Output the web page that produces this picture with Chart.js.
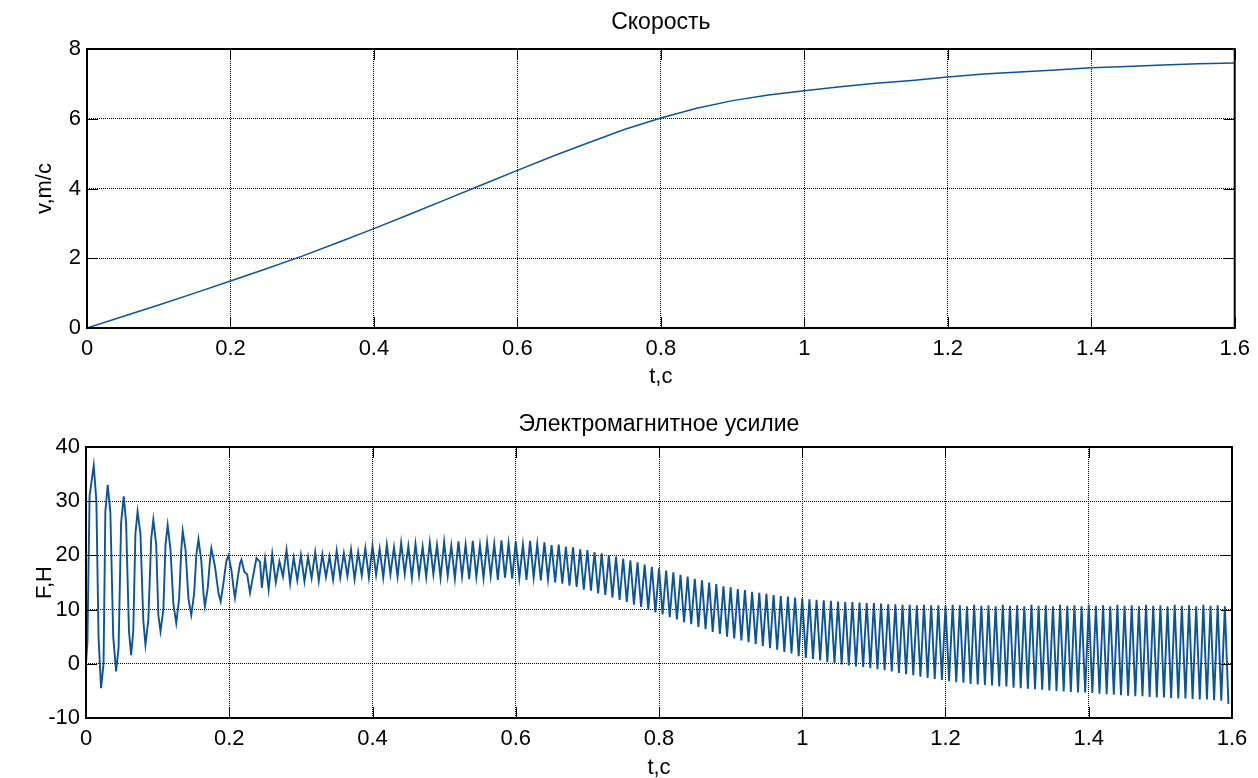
<!DOCTYPE html>
<html><head><meta charset="utf-8">
<script src="https://cdn.jsdelivr.net/npm/chart.js@4.4.1/dist/chart.umd.min.js"></script>
<style>
html,body{margin:0;padding:0;background:#fff;overflow:hidden;width:1258px;height:778px;}
.wrap{position:absolute;left:0;width:1258px;}
</style></head><body>
<div class="wrap" style="top:0;height:390px"><canvas id="c1" width="1258" height="390"></canvas></div>
<div class="wrap" style="top:390px;height:395px"><canvas id="c2" width="1258" height="395"></canvas></div>
<script>
// ---- data ----
const xTicks = [0, 0.2, 0.4, 0.6, 0.8, 1, 1.2, 1.4, 1.6];
const xTickLabels = ['0', '0.2', '0.4', '0.6', '0.8', '1', '1.2', '1.4', '1.6'];
const vTicks = [0, 2, 4, 6, 8];
const fTicks = [-10, 0, 10, 20, 30, 40];

const speedT = [0,0.05,0.1,0.15,0.2,0.25,0.3,0.35,0.4,0.45,0.5,0.55,0.6,0.65,0.7,0.75,0.8,0.85,0.9,0.95,1.0,1.05,1.1,1.15,1.2,1.25,1.3,1.35,1.4,1.45,1.5,1.55,1.6];
const speedV = [0,0.33,0.66,1.0,1.35,1.7,2.06,2.45,2.85,3.26,3.68,4.1,4.52,4.93,5.32,5.7,6.02,6.3,6.52,6.68,6.8,6.92,7.02,7.1,7.2,7.28,7.34,7.4,7.46,7.5,7.54,7.58,7.6];

// early transient (50 Hz) of the force: times and values
const forceEarlyT = [0,0.002,0.005,0.0108,0.0145,0.0175,0.021,0.0245,0.027,0.0303,0.034,0.038,0.042,0.0455,0.049,0.0527,0.056,0.060,0.063,0.066,0.069,0.072,0.076,0.080,0.083,0.087,0.091,0.094,0.098,0.101,0.104,0.108,0.111,0.114,0.118,0.122,0.126,0.130,0.133,0.135,0.139,0.143,0.147,0.151,0.154,0.157,0.161,0.164,0.166,0.170,0.173,0.175,0.180,0.185,0.188,0.192,0.196,0.199,0.203,0.206,0.208,0.212,0.215,0.217,0.221,0.225,0.229,0.233,0.238,0.243,0.2455];
const forceEarlyF = [0,4,31,36.6,30,5,-4.5,0,28,33,28,5,-1.4,3,26,30.9,26,6,1.6,6,24,28.1,24,8,3.5,8,23,26.6,22,9,6,10,22,25.6,21,11,7.5,12,21,24.5,21,12,9,13,20,23,19,13,10.6,14,19,21.3,18,13,11.5,15,19,20,17.3,14,12.2,16,18.5,19.2,17,16.5,13.1,16,19.5,18.8,14.0];

// later ripple (100 Hz): one peak and one trough per cycle, from t = 0.25 s
const rippleStart = 0.25, ripplePeriod = 0.01;
const forcePeaks = [
 19.4,20.3,18.9,21.0,19.6,
 20.1,19.7,20.6,20.2,19.8,20.9,20.4,21.1,20.6,21.3,
 21.8,21.2,22.0,21.5,22.3,21.7,22.1,21.6,22.4,21.9,
 22.5,21.8,22.6,22.0,22.7,21.9,22.4,22.1,22.8,22.2,
 22.6,22.0,22.7,22.1,22.4,21.9,22.0,21.6,21.5,21.1,
 21.0,20.6,20.4,20.0,19.8,19.4,19.1,18.7,18.3,17.9,
 17.6,17.2,16.9,16.4,16.1,15.7,15.4,15.0,14.7,14.3,
 14.1,13.8,13.6,13.3,13.1,12.9,12.7,12.5,12.4,12.2,
 12.1,11.9,11.8,11.7,11.6,11.5,11.4,11.4,11.3,11.2,
 11.2,11.1,11.0,11.0,10.9,10.9,10.8,10.9,10.8,10.8,
 10.7,10.9,10.8,10.6,10.9,10.7,10.8,10.6,10.9,10.7,
 10.8,10.6,10.9,10.7,10.8,10.6,10.9,10.7,10.8,10.6,
 10.9,10.7,10.8,10.6,10.9,10.7,10.8,10.6,10.9,10.7,
 10.8,10.6,10.9,10.7,10.8,10.6,10.9,10.7,10.8,10.6];
const forceTroughs = [
 13.7,15.0,16.1,14.8,15.4,
 15.2,15.8,15.3,16.0,15.5,15.9,16.2,15.6,16.3,15.9,
 16.4,15.9,16.5,16.1,16.6,15.8,16.3,16.0,16.5,15.9,
 16.2,15.7,16.1,15.6,16.0,15.8,16.2,15.5,15.9,15.7,
 15.8,15.5,15.9,15.4,15.6,15.0,14.8,14.4,14.2,13.7,
 13.5,13.0,12.7,12.2,11.8,11.4,10.9,10.5,10.0,9.5,
 9.1,8.6,8.2,7.7,7.3,6.8,6.4,5.9,5.5,5.0,
 4.7,4.3,4.0,3.6,3.3,2.9,2.6,2.2,1.9,1.4,
 1.1,0.9,0.6,0.3,0.1,-0.1,-0.3,-0.5,-0.6,-0.8,
 -1.0,-1.2,-1.4,-1.7,-1.9,-2.1,-2.4,-2.6,-2.8,-3.0,
 -3.2,-3.4,-3.5,-3.7,-3.8,-3.9,-4.0,-4.2,-4.2,-4.4,
 -4.5,-4.6,-4.7,-4.8,-4.9,-5.0,-5.1,-5.2,-5.3,-5.3,
 -5.4,-5.5,-5.6,-5.7,-5.8,-5.9,-6.0,-6.0,-6.1,-6.2,
 -6.2,-6.3,-6.4,-6.4,-6.5,-6.6,-6.6,-6.7,-6.8,-7.4];

// ---- build series ----
const speedData = speedT.map((t, i) => ({x: t, y: speedV[i]}));
const forceData = forceEarlyT.map((t, i) => ({x: t, y: forceEarlyF[i]}));
forcePeaks.forEach((p, k) => {
  const t = rippleStart + k * ripplePeriod;
  forceData.push({x: t, y: p});
  forceData.push({x: t + ripplePeriod / 2, y: forceTroughs[k]});
});

// ---- style ----
const FONT = "'Liberation Sans', Arial, Helvetica, sans-serif";
const FS = 22;
const FT = 23;
const LINE = '#0b549a';

const boxPlugin = {
  id: 'matlabBox',
  afterDatasetsDraw(chart) {
    const {ctx, chartArea: a, scales: {x, y}} = chart;
    ctx.save();
    ctx.strokeStyle = '#000';
    ctx.setLineDash([]);
    ctx.lineWidth = 1;
    const L = 11;
    ctx.beginPath();
    x.ticks.forEach(t => {
      const px = Math.round(x.getPixelForValue(t.value)) + 0.5;
      ctx.moveTo(px, a.bottom); ctx.lineTo(px, a.bottom - L);
      ctx.moveTo(px, a.top); ctx.lineTo(px, a.top + L);
    });
    y.ticks.forEach(t => {
      const py = Math.round(y.getPixelForValue(t.value)) + 0.5;
      ctx.moveTo(a.left, py); ctx.lineTo(a.left + L, py);
      ctx.moveTo(a.right, py); ctx.lineTo(a.right - L, py);
    });
    ctx.stroke();
    ctx.lineWidth = 2;
    ctx.strokeRect(a.left, a.top, a.right - a.left, a.bottom - a.top);
    ctx.restore();
  }
};

function makeChart(id, cfg) {
  return new Chart(document.getElementById(id), {
    type: 'line',
    data: {datasets: [{data: cfg.data, borderColor: LINE, borderWidth: cfg.lw, pointRadius: 0, tension: 0, fill: false}]},
    options: {
      responsive: false, animation: false, devicePixelRatio: 1,
      layout: {padding: {left: 0, right: cfg.padRight, top: 0, bottom: 0}},
      plugins: {
        legend: {display: false}, tooltip: {enabled: false},
        title: {display: true, fullSize: false, text: cfg.title, color: '#000', font: {family: FONT, size: FT, weight: 'normal'}, padding: cfg.titlePad}
      },
      scales: {
        x: {
          type: 'linear', min: 0, max: 1.6,
          afterBuildTicks: s => { s.ticks = xTicks.map(v => ({value: v})); },
          afterFit: s => { s.height = cfg.xHeight; },
          ticks: {color: '#000', font: {family: FONT, size: FS}, padding: 8, maxRotation: 0, autoSkip: false,
                  callback: (v, i) => xTickLabels[i]},
          grid: {color: '#000', lineWidth: 1, drawTicks: false},
          border: {display: false, dash: [1, 1]},
          title: {display: true, text: 't,c', color: '#000', font: {family: FONT, size: FS}, padding: {top: 0, bottom: cfg.xTitlePad}}
        },
        y: {
          type: 'linear', min: cfg.yMin, max: cfg.yMax,
          afterBuildTicks: s => { s.ticks = cfg.yTicks.map(v => ({value: v})); },
          afterFit: s => { s.width = cfg.yWidth; },
          ticks: {color: '#000', font: {family: FONT, size: FS}, padding: 6, callback: v => String(v)},
          grid: {color: '#000', lineWidth: 1, drawTicks: false},
          border: {display: false, dash: [1, 1]},
          title: {display: true, text: cfg.yTitle, color: '#000', font: {family: FONT, size: FS}, padding: {top: 32, bottom: 0}}
        }
      }
    },
    plugins: [boxPlugin]
  });
}

makeChart('c1', {data: speedData, lw: 1.5, title: 'Скорость', titlePad: {top: 8.6, bottom: 12.8}, padRight: 20,
  xHeight: 62, xTitlePad: 0, yWidth: 87, yMin: 0, yMax: 8, yTicks: vTicks, yTitle: 'v,m/c'});
makeChart('c2', {data: forceData, lw: 1.9, title: 'Электромагнитное усилие', titlePad: {top: 20.6, bottom: 8.8}, padRight: 26,
  xHeight: 67, xTitlePad: 4, yWidth: 86, yMin: -10, yMax: 40, yTicks: fTicks, yTitle: 'F,H'});
</script>
</body></html>
